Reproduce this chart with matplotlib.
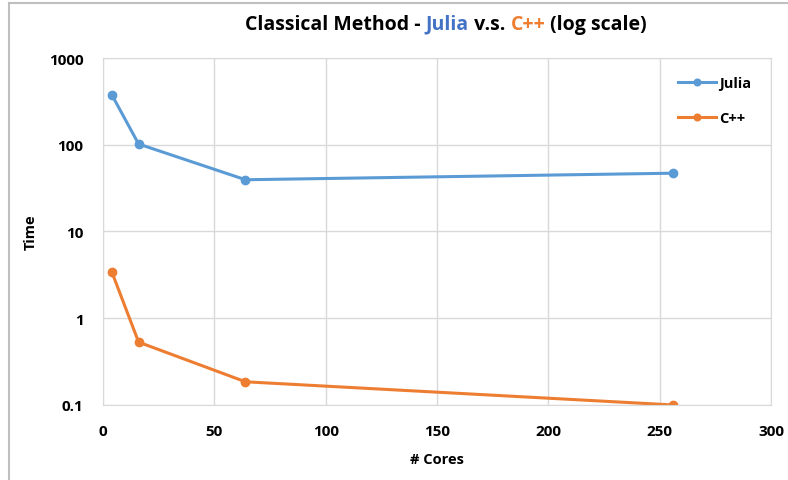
import matplotlib.pyplot as plt
from matplotlib.lines import Line2D

# datos
cores = [4, 16, 64, 256]
julia_time = [375, 102, 39.5, 47]
cpp_time = [3.4, 0.53, 0.185, 0.1]

x_ticks = [0, 50, 100, 150, 200, 250, 300]
y_ticks = [0.1, 1, 10, 100, 1000]
y_labels = ['0.1', '1', '10', '100', '1000']

blue = '#5B9BD5'
orange = '#ED7D31'
grid_color = '#D9D9D9'

plt.rcParams['font.family'] = ['Open Sans', 'DejaVu Sans']

fig = plt.figure(figsize=(7.88, 4.81), dpi=100)
ax = fig.add_axes([0.1307, 0.156, 0.8477, 0.7213])

ax.plot(cores, julia_time, color=blue, marker='o', markersize=6, linewidth=2.2, label='Julia')
ax.plot(cores, cpp_time, color=orange, marker='o', markersize=6, linewidth=2.2, label='C++')

ax.set_yscale('log')
ax.set_xlim(0, 300)
ax.set_ylim(0.1, 1000)
ax.set_xticks(x_ticks)
ax.set_xticklabels([str(v) for v in x_ticks], fontweight='bold', fontsize=11)
ax.set_yticks(y_ticks)
ax.set_yticklabels(y_labels, fontweight='bold', fontsize=11)
ax.minorticks_off()
ax.tick_params(axis='y', length=0, pad=14)
ax.tick_params(axis='x', length=0, pad=14)
ax.grid(True, color=grid_color, linewidth=1)
ax.set_axisbelow(True)
for s in ax.spines.values():
    s.set_color(grid_color)

ax.set_xlabel('# Cores', fontweight='bold', fontsize=10.5, labelpad=10)
ax.set_ylabel('Time', fontweight='bold', fontsize=10.5, labelpad=8)

# leyenda sin marco
leg = ax.legend(loc='upper right', bbox_to_anchor=(0.99, 0.985), frameon=False,
                prop={'weight': 'bold', 'size': 10.5}, handlelength=2.6, handletextpad=0.2,
                labelspacing=1.4, markerscale=0.8)

# titulo con colores
parts = [('Classical Method - ', 'black'), ('Julia', '#4472C4'), (' v.s. ', 'black'),
         ('C++', orange), (' (log scale)', 'black')]
ty = 0.938
for txt, col in parts:
    fig.text(0.311, ty, txt, color=col, fontsize=14, fontweight='bold', va='baseline', ha='left')
fig.canvas.draw()
r = fig.canvas.get_renderer()
texts = fig.texts
for i in range(1, len(texts)):
    bb = texts[i - 1].get_window_extent(r)
    texts[i].set_position((bb.x1 / fig.bbox.width, ty))

# marco exterior (solo arriba e izquierda)
fig.add_artist(Line2D([9 / 788, 1], [1 - 4 / 481, 1 - 4 / 481], transform=fig.transFigure,
                      color='#BFBFBF', linewidth=1.5))
fig.add_artist(Line2D([9 / 788, 9 / 788], [0, 1 - 4 / 481], transform=fig.transFigure,
                      color='#BFBFBF', linewidth=1.5))

fig.savefig('out.png', dpi=100)
